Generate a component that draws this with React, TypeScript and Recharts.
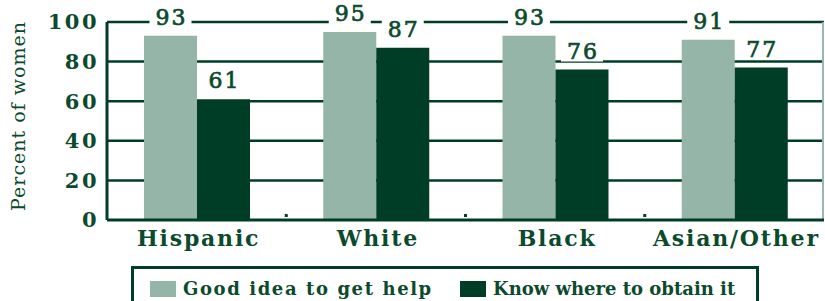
import React from 'react'
import {
  Bar,
  BarChart,
  CartesianGrid,
  LabelList,
  Legend,
  XAxis,
  YAxis,
} from 'recharts'

const categories = ['Hispanic', 'White', 'Black', 'Asian/Other']
const goodIdea = [93, 95, 93, 91]
const knowWhere = [61, 87, 76, 77]
const yTicks = [0, 20, 40, 60, 80, 100]
const seriesNames = ['Good idea to get help', 'Know where to obtain it']

const LIGHT = '#95b5a8'
const DARK = '#003d26'
const INK = '#0b4a2c'
const FONT = '"DejaVu Serif", "Liberation Serif", serif'

const data = categories.map((name, i) => ({
  name,
  goodIdea: goodIdea[i],
  knowWhere: knowWhere[i],
}))

const ValueLabel = (props: any) => {
  const { x, y, width, value } = props
  const cx = x + width / 2
  return (
    <g>
      <rect x={cx - 21} y={y - 30} width={42} height={22} fill="#fff" />
      <text
        x={cx + 1}
        y={y - 11}
        textAnchor="middle"
        fill={INK}
        stroke={INK}
        strokeWidth={0.7}
        fontFamily={FONT}
        fontSize={22}
        letterSpacing={2}
      >
        {value}
      </text>
    </g>
  )
}

const CategoryTick = (props: any) => {
  const { x, y, payload, index } = props
  const half = payload.offset ?? 89.6
  return (
    <g>
      {index > 0 && (
        <rect x={x - half - 1.5} y={y - 14} width={3} height={3} fill={DARK} />
      )}
      <text
        x={x + 2}
        y={y + 18}
        textAnchor="middle"
        fill={INK}
        fontFamily={FONT}
        fontWeight="bold"
        fontSize={22}
        letterSpacing={1.8}
      >
        {payload.value}
      </text>
    </g>
  )
}

const YLabel = (props: any) => {
  const { viewBox } = props
  const cy = viewBox ? viewBox.y + viewBox.height / 2 : 120
  return (
    <text
      x={0}
      y={0}
      transform={`translate(25, ${cy - 5}) rotate(-90)`}
      textAnchor="middle"
      fill={INK}
      fontFamily={FONT}
      fontSize={19}
      letterSpacing={1}
    >
      Percent of women
    </text>
  )
}

const LegendBox = () => (
  <div
    style={{
      position: 'absolute',
      left: 131,
      top: 266,
      width: 628,
      height: 40,
      border: `3px solid ${DARK}`,
      borderBottom: 'none',
      boxSizing: 'border-box',
      fontFamily: FONT,
      fontWeight: 'bold',
      fontSize: 18,
      color: INK,
      whiteSpace: 'nowrap',
    }}
  >
    {seriesNames.map((n, i) => (
      <div
        key={n}
        style={{
          position: 'absolute',
          left: i === 0 ? 16 : 326,
          top: 9,
          display: 'flex',
          alignItems: 'center',
          letterSpacing: i === 0 ? 1.6 : 0,
        }}
      >
        <span
          style={{
            display: 'inline-block',
            width: 26,
            height: 16,
            background: i === 0 ? LIGHT : DARK,
            marginRight: 7,
          }}
        />
        <span>{n}</span>
      </div>
    ))}
  </div>
)

export default function App() {
  return (
    <div style={{ position: 'absolute', left: 0, top: 0, width: 825, height: 301, background: '#fff', overflow: 'hidden' }}>
      <BarChart
        width={825}
        height={301}
        data={data}
        margin={{ top: 22, right: 1, left: 0, bottom: 46 }}
        barCategoryGap={37}
        barGap={0}
      >
        <CartesianGrid
          vertical={false}
          stroke={DARK}
          strokeWidth={2.5}
          horizontalValues={[20, 40, 60, 80, 100]}
        />
        <CartesianGrid
          horizontal={false}
          verticalPoints={[823]}
          stroke="#9bb8ab"
          strokeWidth={2}
        />
        <XAxis
          dataKey="name"
          height={35}
          interval={0}
          tickLine={false}
          axisLine={{ stroke: DARK, strokeWidth: 3 }}
          tick={<CategoryTick />}
        />
        <YAxis
          width={107}
          domain={[0, 100]}
          ticks={yTicks}
          tickLine={false}
          tickMargin={2}
          axisLine={{ stroke: DARK, strokeWidth: 3 }}
          tick={{ fill: INK, fontFamily: FONT, fontWeight: 'bold', fontSize: 21, letterSpacing: 2.5 }}
          label={<YLabel />}
        />
        <Legend content={() => null} />
        <Bar dataKey="goodIdea" fill={LIGHT} isAnimationActive={false}>
          <LabelList dataKey="goodIdea" content={<ValueLabel />} />
        </Bar>
        <Bar dataKey="knowWhere" fill={DARK} isAnimationActive={false}>
          <LabelList dataKey="knowWhere" content={<ValueLabel />} />
        </Bar>
      </BarChart>
      <LegendBox />
    </div>
  )
}
